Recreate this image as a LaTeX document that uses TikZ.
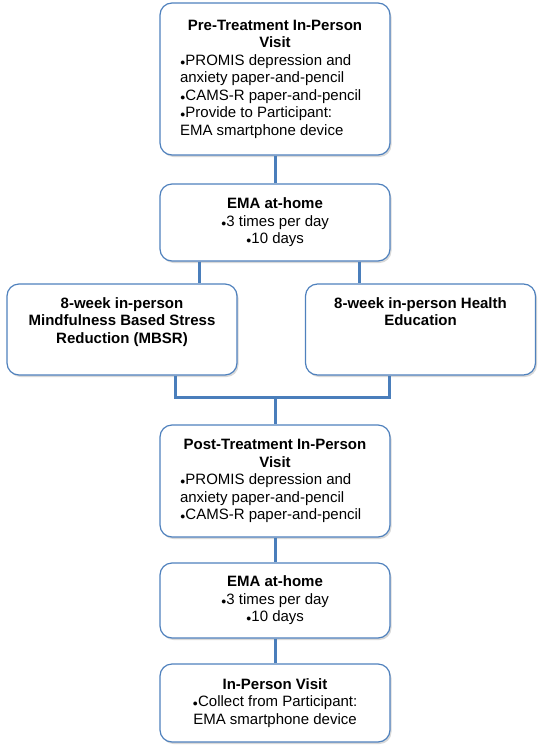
\documentclass[tikz,border=0pt]{standalone}
\usepackage{fontspec}
\setmainfont{Liberation Sans}
\usetikzlibrary{shadows}
\definecolor{boxblue}{RGB}{79,129,189}
\definecolor{linkblue}{RGB}{74,126,187}
\newcommand{\bul}{\scalebox{0.6}{●}}

\begin{document}
\begin{tikzpicture}[x=1pt, y=-1pt,
    stagebox/.style={draw=boxblue, line width=1.2pt, fill=white, rounded corners=12pt, minimum width=230pt, inner sep=0pt, align=center, font=\fontsize{15}{17.5}\selectfont, drop shadow={shadow xshift=1.5pt, shadow yshift=-2pt, opacity=0.3}},
    link/.style={linkblue, line width=3pt}]
  \useasboundingbox (0, 0) rectangle (542, 750);

  \node [stagebox, minimum height=152pt] (pre) at (275, 79) {\parbox{190pt}{\centering\bfseries Pre-Treatment In-Person\\Visit\par\raggedright\mdseries \bul PROMIS depression and\\anxiety paper-and-pencil\\\bul CAMS-R paper-and-pencil\\\bul Provide to Participant:\\EMA smartphone device}};
  \node [stagebox, minimum height=77pt] (ema1) at (275, 222.5) {\textbf{EMA at-home}\\\bul 3 times per day\\\bul 10 days};
  \node [stagebox, minimum height=91pt] (mbsr) at (122, 329.5) {\parbox[t][64pt][t]{220pt}{\centering\bfseries 8-week in-person\\Mindfulness Based Stress\\Reduction (MBSR)}};
  \node [stagebox, minimum height=91pt] (health) at (420.5, 329.5) {\parbox[t][64pt][t]{220pt}{\centering\bfseries 8-week in-person Health\\Education}};
  \node [stagebox, minimum height=112pt] (post) at (275, 481) {\parbox{190pt}{\centering\bfseries Post-Treatment In-Person\\Visit\par\raggedright\mdseries \bul PROMIS depression and\\anxiety paper-and-pencil\\\bul CAMS-R paper-and-pencil}};
  \node [stagebox, minimum height=75pt] (ema2) at (275, 600.5) {\textbf{EMA at-home}\\\bul 3 times per day\\\bul 10 days};
  \node [stagebox, minimum height=78pt] (visit) at (275, 703) {\textbf{In-Person Visit}\\\bul Collect from Participant:\\EMA smartphone device};

  \coordinate (splitL) at (199, 0);
  \coordinate (splitR) at (359, 0);
  \coordinate (joinL) at (175, 397);
  \coordinate (joinR) at (389, 397);

  \draw [link] (pre.south) -- (ema1.north);
  \draw [link] (ema1.south -| splitL) -- (mbsr.north -| splitL);
  \draw [link] (ema1.south -| splitR) -- (health.north -| splitR);
  \draw [link] (mbsr.south -| joinL) -- (joinL) -- (joinR) -- (health.south -| joinR);
  \draw [link] (joinL -| post.north) -- (post.north);
  \draw [link] (post.south) -- (ema2.north);
  \draw [link] (ema2.south) -- (visit.north);
\end{tikzpicture}
\end{document}
